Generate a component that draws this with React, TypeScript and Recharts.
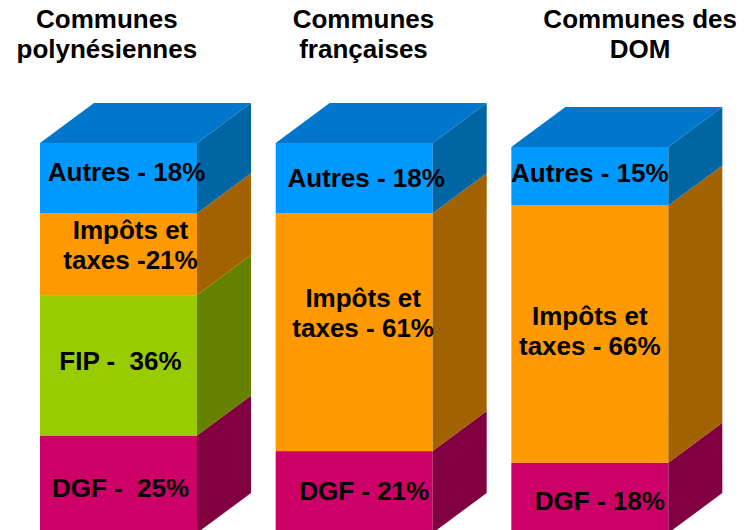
import { BarChart, Bar, XAxis, YAxis, LabelList } from "recharts";

// column titles (two lines each)
const titleLines = [
  ["Communes", "polynésiennes"],
  ["Communes", "françaises"],
  ["Communes des", "DOM"],
];
const categories = ["Communes polynésiennes", "Communes françaises", "Communes des DOM"];

// shares in %
const dgf = [25, 21, 18];
const fip = [36, 0, 0];
const impots = [21, 61, 66];
const autres = [18, 18, 15];

// segment labels
const dgfLabels = [["DGF -  25%"], ["DGF - 21%"], ["DGF - 18%"]];
const fipLabels = [["FIP -  36%"], [], []];
const impotsLabels = [["Impôts et", "taxes -21%"], ["Impôts et", "taxes - 61%"], ["Impôts et", "taxes - 66%"]];
const autresLabels = [["Autres - 18%"], ["Autres - 18%"], ["Autres - 15%"]];

const data = categories.map((name, i) => ({
  name,
  dgf: dgf[i],
  fip: fip[i],
  impots: impots[i],
  autres: autres[i],
}));

// hand placement of the texts, as in the slide
const titleShift = [-12, 9, 50];
const labelNudge: Record<string, [number, number][]> = {
  dgf: [[2, 4], [10, -1], [10, 3]],
  fip: [[2, -4], [0, 0], [0, 0]],
  impots: [[12, -9], [9, -19], [0, -3]],
  autres: [[8, -6], [12, 0], [0, -3]],
};

const DX = 54;
const DY = 40;
const FONT = "'Liberation Sans', Arial, sans-serif";

const colors = {
  dgf: { front: "#CC0066", side: "#800040" },
  fip: { front: "#99CC00", side: "#668000" },
  impots: { front: "#FF9900", side: "#A36200" },
  autres: { front: "#0099FF", side: "#0066A3", top: "#0077CC" },
};

function Box(props: any) {
  const { x, y, width, height, front, side, top } = props;
  if (!height || height <= 0) return null;
  const r = x + width;
  return (
    <g>
      <rect x={x} y={y} width={width} height={height} fill={front} />
      <polygon
        points={`${r},${y} ${r + DX},${y - DY} ${r + DX},${y + height - DY} ${r},${y + height}`}
        fill={side}
      />
      {top && (
        <polygon
          points={`${x},${y} ${x + DX},${y - DY} ${r + DX},${y - DY} ${r},${y}`}
          fill={top}
        />
      )}
    </g>
  );
}

function makeLabel(lines: string[][], key: string) {
  return (props: any) => {
    const { x, y, width, height, index } = props;
    const ls = lines[index] || [];
    if (!ls.length) return null;
    const [nx, ny] = labelNudge[key][index];
    const cx = x + width / 2 + nx;
    const cy = y + height / 2;
    const first = cy - (ls.length - 1) * 15 + 9 + ny;
    return (
      <g>
        {ls.map((t, i) => (
          <text
            key={i}
            x={cx}
            y={first + i * 30}
            textAnchor="middle"
            fontFamily={FONT}
            fontWeight="bold"
            fontSize={26}
            fill="#000"
            style={{ whiteSpace: "pre" }}
          >
            {t}
          </text>
        ))}
      </g>
    );
  };
}

function TitleTick(props: any) {
  const { x, payload } = props;
  const idx = payload.index;
  return (
    <g>
      {titleLines[idx].map((t, i) => (
        <text
          key={i}
          x={x + titleShift[idx]}
          y={28 + i * 30}
          textAnchor="middle"
          fontFamily={FONT}
          fontWeight="bold"
          fontSize={26}
          fill="#000"
        >
          {t}
        </text>
      ))}
    </g>
  );
}

export default function App() {
  return (
    <div style={{ position: "absolute", left: 0, top: 0, width: 753, height: 530, overflow: "hidden", background: "#fff" }}>
      <BarChart
        width={753}
        height={545}
        data={data}
        margin={{ top: 0, right: 45, left: 1, bottom: 12 }}
        barSize={157}
      >
        <XAxis
          dataKey="name"
          orientation="top"
          height={143}
          axisLine={false}
          tickLine={false}
          interval={0}
          tick={<TitleTick />}
        />
        <YAxis hide domain={[0, 100]} />
        <Bar dataKey="dgf" stackId="a" isAnimationActive={false}
          shape={(p: any) => <Box {...p} {...colors.dgf} />}>
          <LabelList content={makeLabel(dgfLabels, "dgf")} />
        </Bar>
        <Bar dataKey="fip" stackId="a" isAnimationActive={false}
          shape={(p: any) => <Box {...p} {...colors.fip} />}>
          <LabelList content={makeLabel(fipLabels, "fip")} />
        </Bar>
        <Bar dataKey="impots" stackId="a" isAnimationActive={false}
          shape={(p: any) => <Box {...p} {...colors.impots} />}>
          <LabelList content={makeLabel(impotsLabels, "impots")} />
        </Bar>
        <Bar dataKey="autres" stackId="a" isAnimationActive={false}
          shape={(p: any) => <Box {...p} {...colors.autres} />}>
          <LabelList content={makeLabel(autresLabels, "autres")} />
        </Bar>
      </BarChart>
    </div>
  );
}
